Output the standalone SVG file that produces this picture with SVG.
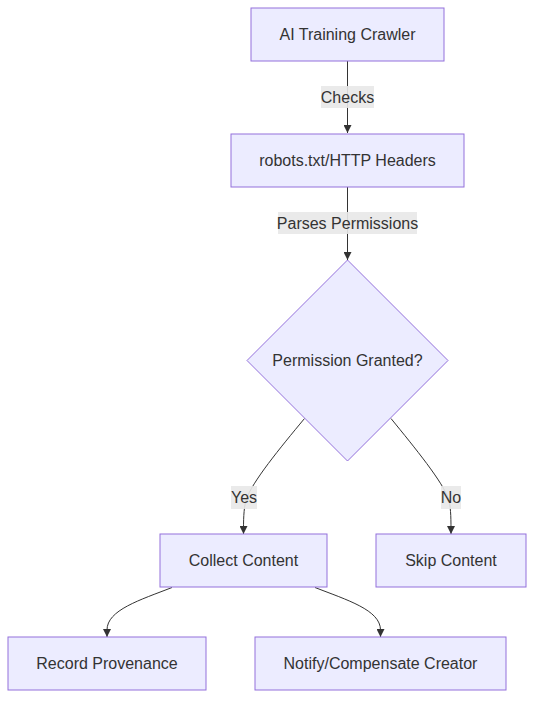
<svg xmlns="http://www.w3.org/2000/svg" width="542" height="709" viewBox="0 0 542 709">
<style>
.node rect,.node polygon{fill:#ECECFF;stroke:#9370DB;stroke-width:1}
.node text,.lbl text{font-family:"Liberation Sans",Arial,sans-serif;font-size:16px;fill:#333;text-anchor:middle;dominant-baseline:central}
.edge{fill:none;stroke:#333;stroke-width:1}
.lbl rect{fill:#e8e8e8;opacity:0.9}
</style>
<defs>
<marker id="arr" viewBox="0 0 10 10" refX="10" refY="5" markerWidth="8" markerHeight="8" markerUnits="userSpaceOnUse" orient="auto">
<path d="M0,0 L10,5 L0,10 z" fill="#333"/>
</marker>
</defs>
<rect width="542" height="709" fill="#fff"/>
<g id="connectors">
<path class="edge" d="M347.5,61 L347.5,133" marker-end="url(#arr)"/>
<path class="edge" d="M347.5,187 L347.5,260" marker-end="url(#arr)"/>
<path class="edge" d="M304.5,418.5 C280,448 252,482 246,500 C243.5,510 243.5,520 243.5,534" marker-end="url(#arr)"/>
<path class="edge" d="M391,418.5 C415,448 443,482 449,500 C451,510 451,520 451,534" marker-end="url(#arr)"/>
<path class="edge" d="M172,587.5 C140,600 107,610 107,630 L107,637" marker-end="url(#arr)"/>
<path class="edge" d="M315,587.5 C347,600 380.5,610 380.5,630 L380.5,637" marker-end="url(#arr)"/>
<g class="lbl"><rect x="321" y="86" width="53" height="22"/><text x="347.5" y="97">Checks</text></g>
<g class="lbl"><rect x="278" y="212" width="139" height="22"/><text x="347.5" y="223">Parses Permissions</text></g>
<g class="lbl"><rect x="231" y="486" width="26" height="23"/><text x="244" y="497.5">Yes</text></g>
<g class="lbl"><rect x="441" y="486" width="20" height="23"/><text x="451" y="497.5">No</text></g>
</g>
<g id="n-crawler" class="node"><rect x="251" y="8" width="193" height="53"/><text x="347.5" y="34.5">AI Training Crawler</text></g>
<g id="n-robots" class="node"><rect x="231" y="134" width="233" height="53"/><text x="347.5" y="160.5">robots.txt/HTTP Headers</text></g>
<g id="n-perm" class="node"><polygon points="347.5,260 448,360.5 347.5,461 247,360.5"/><text x="347.5" y="360.5">Permission Granted?</text></g>
<g id="n-collect" class="node"><rect x="160" y="534" width="167" height="53"/><text x="243.5" y="560.5">Collect Content</text></g>
<g id="n-skip" class="node"><rect x="376" y="534" width="150" height="53"/><text x="451" y="560.5">Skip Content</text></g>
<g id="n-record" class="node"><rect x="8" y="637" width="198" height="53"/><text x="107" y="663.5">Record Provenance</text></g>
<g id="n-notify" class="node"><rect x="255" y="637" width="251" height="53"/><text x="380.5" y="663.5">Notify/Compensate Creator</text></g>
</svg>
